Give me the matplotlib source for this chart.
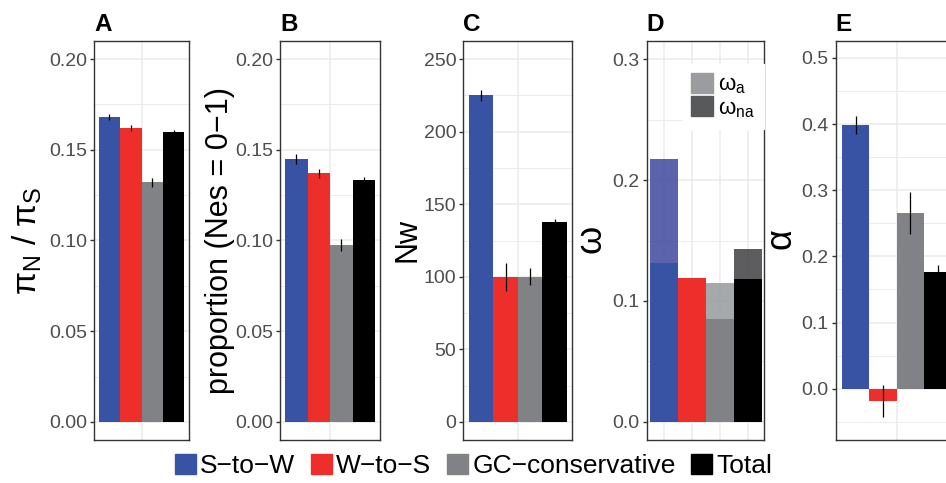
import matplotlib
matplotlib.use('Agg')
import matplotlib.pyplot as plt
from matplotlib.patches import Patch
from matplotlib.ticker import MultipleLocator, FormatStrFormatter
import numpy as np

plt.rcParams['font.family'] = ['Liberation Sans', 'DejaVu Sans']
plt.rcParams['mathtext.fontset'] = 'custom'
plt.rcParams['mathtext.rm'] = 'Liberation Sans'
plt.rcParams['mathtext.it'] = 'Liberation Sans'
plt.rcParams['mathtext.bf'] = 'Liberation Sans:bold'

# data
categories = ['S−to−W', 'W−to−S', 'GC−conservative', 'Total']
colors = ['#3953a4', '#ee2e2a', '#808285', '#000000']

piN_piS = [0.168, 0.162, 0.132, 0.160]
piN_piS_err = [0.0015, 0.0017, 0.0024, 0.0008]

prop_nes01 = [0.145, 0.137, 0.0975, 0.1335]
prop_nes01_err = [0.0027, 0.0026, 0.0035, 0.0017]

Nw = [225, 100, 100, 137.5]
Nw_err = [4, 9.5, 6, 2.5]

omega_na = [0.131, 0.119, 0.085, 0.118]
omega_a = [0.086, 0.0, 0.030, 0.025]
omega_a_colors = ['#3f489f', '#ee2e2a', '#979a9d', '#404144']

alpha = [0.399, -0.0185, 0.2655, 0.176]
alpha_err = [0.0135, 0.024, 0.0315, 0.011]

grid_col = '#ebebeb'
tick_col = '#4d4d4d'
border_col = '#333333'

fig = plt.figure(figsize=(9.46, 4.83), dpi=100)

bottom = 43 / 483
height = 399 / 483
rects = {
    'A': [94 / 946, bottom, 95 / 946, height],
    'B': [280 / 946, bottom, 100 / 946, height],
    'C': [463.3 / 946, bottom, 109 / 946, height],
    'D': [646.7 / 946, bottom, 117.6 / 946, height],
    'E': [835.7 / 946, bottom, 122 / 946, height],
}


def style_axis(ax, letter, ylabel, ylim, major, minor, fmt, labelpad, lsize=22):
    ax.set_ylim(*ylim)
    ax.yaxis.set_major_locator(MultipleLocator(major))
    ax.yaxis.set_minor_locator(MultipleLocator(minor))
    ax.yaxis.set_major_formatter(FormatStrFormatter(fmt))
    ax.set_axisbelow(True)
    ax.grid(which='major', color=grid_col, lw=1.1)
    ax.grid(which='minor', axis='y', color=grid_col, lw=0.7)
    ax.tick_params(axis='y', which='major', labelsize=14, labelcolor=tick_col,
                   color=border_col, length=3, width=1.0, pad=2)
    ax.tick_params(axis='y', which='minor', length=0)
    ax.tick_params(axis='x', which='both', length=0, labelbottom=False)
    for s in ax.spines.values():
        s.set_color(border_col)
        s.set_linewidth(1.0)
    ax.set_ylabel(ylabel, fontsize=lsize, labelpad=labelpad)
    ax.annotate(letter, xy=(0, 1), xycoords='axes fraction', xytext=(0, 7.2),
                textcoords='offset points', ha='left', va='baseline',
                fontsize=17.5, fontweight='bold')


def dodged(ax, values, errs):
    w = 0.225
    x = 1 + (np.arange(4) - 1.5) * w
    ax.bar(x, values, width=w, color=colors, zorder=2)
    ax.errorbar(x, values, yerr=errs, fmt='none', ecolor='black',
                elinewidth=0.9, capsize=0, zorder=3)
    ax.set_xlim(0.5, 1.5)
    ax.set_xticks([1])


axA = fig.add_axes(rects['A'])
dodged(axA, piN_piS, piN_piS_err)
style_axis(axA, 'A', r'$\pi_\mathrm{N}\ /\ \pi_\mathrm{S}$', (-0.01, 0.21), 0.05, 0.025,
           '%.2f', 4, lsize=24)

axB = fig.add_axes(rects['B'])
dodged(axB, prop_nes01, prop_nes01_err)
style_axis(axB, 'B', 'proportion (Nes = 0−1)', (-0.01, 0.21), 0.05, 0.025, '%.2f', 0)

axC = fig.add_axes(rects['C'])
dodged(axC, Nw, Nw_err)
style_axis(axC, 'C', 'Nw', (-12.5, 262.5), 50, 25, '%d', 1)

axD = fig.add_axes(rects['D'])
xd = np.arange(1, 5)
axD.bar(xd, omega_na, width=1.0, color=colors, zorder=2)
axD.bar(xd, omega_a, width=1.0, bottom=omega_na, color=omega_a_colors,
        alpha=0.85, zorder=2)
axD.set_xlim(0.4, 4.6)
axD.set_xticks(xd)
style_axis(axD, 'D', r'$\omega$', (-0.015, 0.315), 0.1, 0.05, '%.1f', 2, lsize=26)
leg = axD.legend(handles=[Patch(color='#9b9c9f'), Patch(color='#58595b')],
                 labels=[r'$\omega_\mathrm{a}$', r'$\omega_\mathrm{na}$'],
                 loc='upper left', bbox_to_anchor=(0.2976, 0.942), fontsize=16,
                 frameon=True, fancybox=False, framealpha=1, edgecolor='white',
                 handlelength=0.98, handleheight=0.98, handletextpad=0.25,
                 labelspacing=0.0, borderpad=0.42, borderaxespad=0)

axE = fig.add_axes(rects['E'])
dodged(axE, alpha, alpha_err)
style_axis(axE, 'E', r'$\alpha$', (-0.0776, 0.5257), 0.1, 0.05, '%.1f', 1, lsize=26)

handles = [Patch(color=c) for c in colors]
fig.legend(handles, categories, loc='center', bbox_to_anchor=(0.5007, 17 / 483),
           ncol=4, frameon=False, fontsize=19, handlelength=0.8,
           handleheight=0.8, handletextpad=0.15, columnspacing=0.6,
           borderpad=0)

fig.savefig('out.png', dpi=100)
